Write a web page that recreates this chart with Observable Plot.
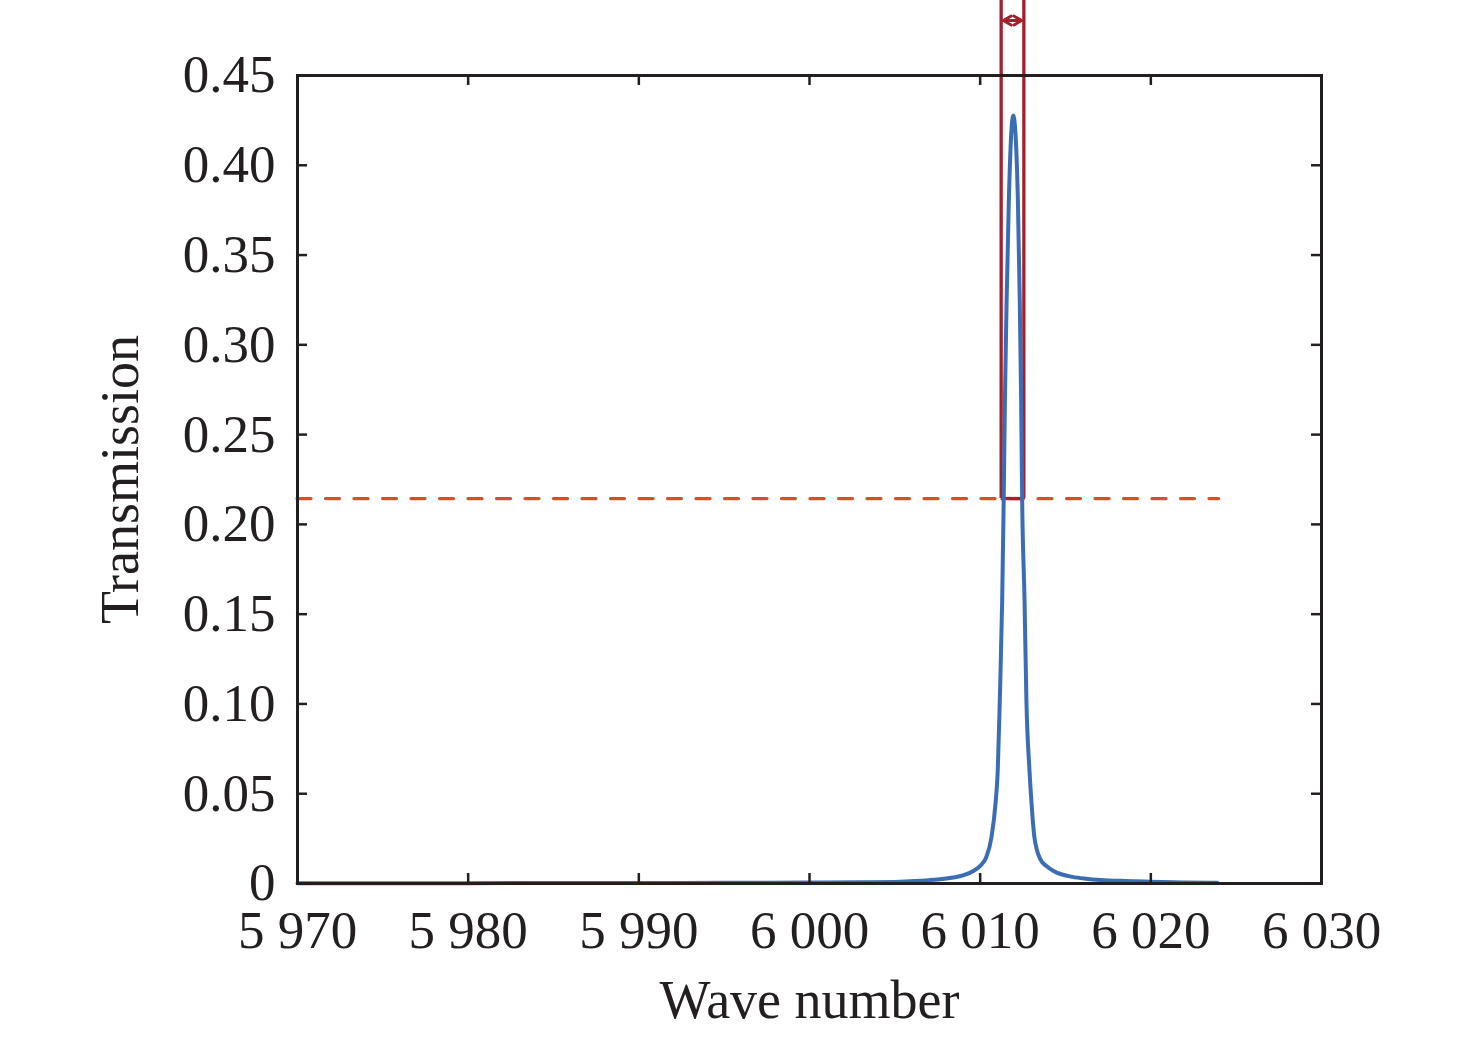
<!DOCTYPE html>
<html>
<head>
<meta charset="utf-8">
<script src="https://cdn.jsdelivr.net/npm/d3@7"></script>
<script src="https://cdn.jsdelivr.net/npm/@observablehq/plot@0.6"></script>
<style>
  html, body { margin: 0; padding: 0; background: #fff; }
</style>
</head>
<body>
<div id="chart"></div>
<script>
// Data
const waveNumber = [5970, 5980, 5990, 5995, 6000, 6003, 6005.3, 6006.5, 6007.5, 6008.4, 6009.0, 6009.6, 6010.0, 6010.35, 6010.66, 6010.9, 6011.03, 6011.15, 6011.29, 6011.38, 6011.45, 6011.55, 6011.68, 6011.82, 6011.94, 6012.07, 6012.21, 6012.32, 6012.40, 6012.46, 6012.60, 6012.71, 6012.89, 6013.01, 6013.18, 6013.53, 6013.9, 6014.3, 6014.8, 6015.4, 6016.2, 6017.05, 6018.5, 6019.98, 6022.0, 6023.89];
const transmission = [0.0001, 0.0002, 0.0003, 0.0004, 0.0005, 0.0007, 0.0010, 0.0015, 0.0022, 0.0033, 0.0045, 0.0070, 0.0098, 0.0145, 0.0256, 0.0446, 0.0629, 0.1019, 0.1576, 0.2144, 0.2690, 0.3247, 0.3804, 0.4175, 0.4277, 0.4175, 0.3804, 0.3247, 0.2690, 0.2144, 0.1576, 0.1019, 0.0629, 0.0446, 0.0256, 0.0134, 0.0096, 0.0070, 0.0050, 0.0037, 0.0027, 0.0020, 0.0014, 0.0010, 0.0006, 0.0004];

const halfMax = 0.2144;
const halfMaxRange = [5970, 6024];
const fwhmEdges = [6011.23, 6012.56];
const markerTop = 0.492;
const arrowY = 0.4806;
// each arrowhead: [tail (outside, trimmed away), tip]
const arrowTails = [6013.4, 6010.39];
const arrowTips = [6011.36, 6012.43];

const xTicks = [5970, 5980, 5990, 6000, 6010, 6020, 6030];
const xTickLabels = ["5 970", "5 980", "5 990", "6 000", "6 010", "6 020", "6 030"];
const yTicks = [0, 0.05, 0.10, 0.15, 0.20, 0.25, 0.30, 0.35, 0.40, 0.45];
const yTickLabels = ["0", "0.05", "0.10", "0.15", "0.20", "0.25", "0.30", "0.35", "0.40", "0.45"];

const xLabel = "Wave number";
const yLabel = "Transmission";

const curve = waveNumber.map((x, i) => ({x, y: transmission[i]}));
const arrows = arrowTips.map((tip, i) => ({x1: arrowTails[i], x2: tip}));

const W = 1476, H = 1037;
const mL = 297, mR = 155, mT = 75, mB = 154;
const plotW = W - mL - mR, plotH = H - mT - mB;
const ink = "#231f20";
const red = "#a3202d";
const tickLen = 10;

const chart = Plot.plot({
  width: W,
  height: H,
  marginLeft: mL,
  marginRight: mR,
  marginTop: mT,
  marginBottom: mB,
  style: {fontFamily: "'Liberation Serif', 'Times New Roman', serif", fontSize: "53px", color: ink, background: "#fff", overflow: "visible"},
  x: {domain: [5970, 6030]},
  y: {domain: [0, 0.45]},
  marks: [
    // dashed half-maximum line
    Plot.ruleY([halfMax], {x1: halfMaxRange[0], x2: halfMaxRange[1], stroke: "#d4502a", strokeWidth: 3.3, strokeDasharray: "14,14.5", strokeLinecap: "round"}),
    // FWHM markers
    Plot.ruleX(fwhmEdges, {x: d => d, y1: halfMax, y2: markerTop, stroke: red, strokeWidth: 3.3}),
    Plot.ruleY([halfMax], {x1: fwhmEdges[0], x2: fwhmEdges[1], stroke: red, strokeWidth: 3.3}),
    Plot.arrow(arrows, {x1: "x1", x2: "x2", y1: arrowY, y2: arrowY, stroke: red, strokeWidth: 3, headLength: 4.5, insetStart: 24}),
    // transmission curve
    Plot.line(curve, {x: "x", y: "y", stroke: "#3a6db5", strokeWidth: 4, curve: "monotone-x"}),
    // frame
    Plot.frame({stroke: ink, strokeWidth: 3}),
    // inward ticks
    Plot.tickX(xTicks, {x: d => d, insetTop: plotH - tickLen, stroke: ink, strokeWidth: 2.5}),
    Plot.tickX(xTicks, {x: d => d, insetBottom: plotH - tickLen, stroke: ink, strokeWidth: 2.5}),
    Plot.tickY(yTicks, {y: d => d, insetRight: plotW - tickLen, stroke: ink, strokeWidth: 2.5}),
    Plot.tickY(yTicks, {y: d => d, insetLeft: plotW - tickLen, stroke: ink, strokeWidth: 2.5}),
    // tick labels
    Plot.axisX(xTicks, {tickSize: 0, tickPadding: 27, tickFormat: d => xTickLabels[xTicks.indexOf(d)], label: null, fontSize: 53, fill: ink}),
    Plot.axisY(yTicks, {tickSize: 0, tickPadding: 22, tickFormat: d => yTickLabels[yTicks.indexOf(d)], label: null, fontSize: 53, fill: ink}),
    // axis titles
    Plot.text([xLabel], {text: d => d, frameAnchor: "bottom", dy: 117, lineAnchor: "middle", textAnchor: "middle", fontSize: 54, fill: ink}),
    Plot.text([yLabel], {text: d => d, frameAnchor: "left", dx: -177, rotate: -90, lineAnchor: "middle", textAnchor: "middle", fontSize: 54, fill: ink})
  ]
});

document.getElementById("chart").appendChild(chart);
</script>
</body>
</html>
